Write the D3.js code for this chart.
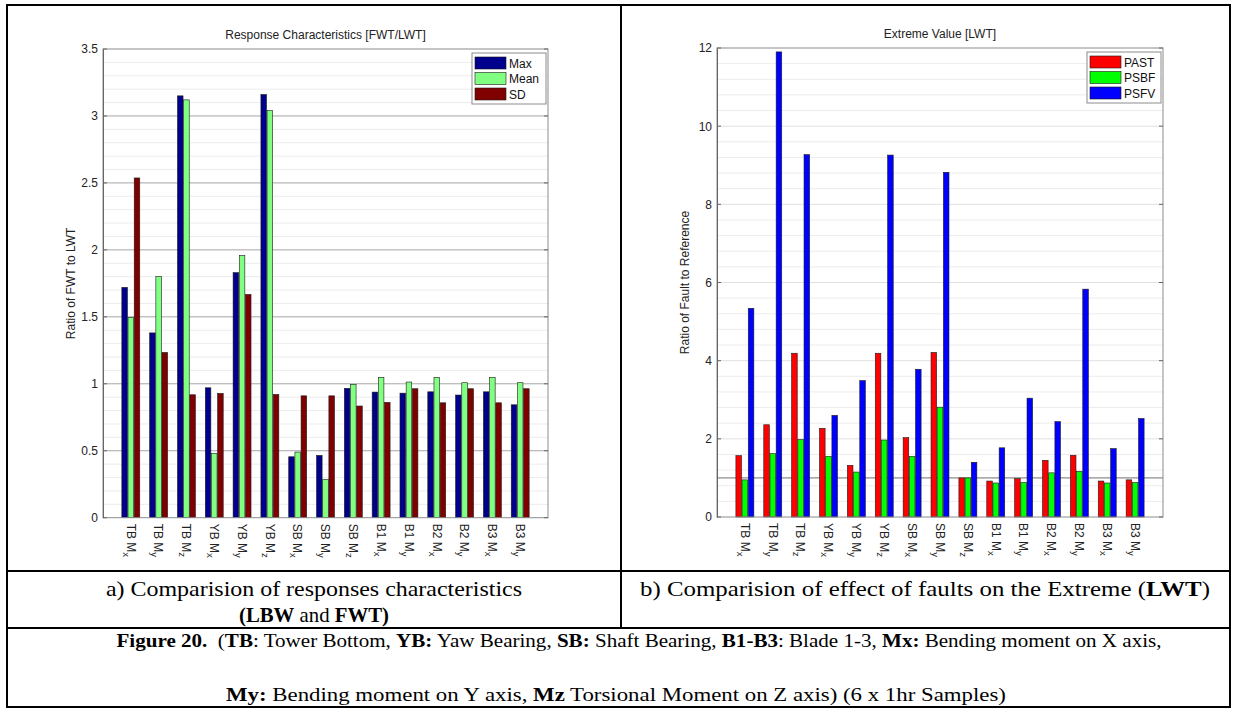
<!DOCTYPE html>
<html><head><meta charset="utf-8">
<script src="https://cdn.jsdelivr.net/npm/d3@7/dist/d3.min.js"></script>
<style>
body{margin:0;background:#fff;}
svg{display:block;}
</style></head>
<body>
<svg id="fig" width="1233" height="709"></svg>
<script>
// ---- data ----
const catBase = ["TB","TB","TB","YB","YB","YB","SB","SB","SB","B1","B1","B2","B2","B3","B3"];
const catSub  = ["x","y","z","x","y","z","x","y","z","x","y","x","y","x","y"];

const leftSeries = ["Max","Mean","SD"];
const leftMax  = [1.72,1.38,3.15,0.97,1.83,3.16,0.455,0.465,0.966,0.938,0.93,0.94,0.916,0.94,0.843];
const leftMean = [1.495,1.80,3.12,0.48,1.958,3.04,0.49,0.287,0.995,1.048,1.013,1.048,1.008,1.048,1.008];
const leftSD   = [2.537,1.234,0.918,0.928,1.667,0.92,0.91,0.91,0.834,0.861,0.963,0.858,0.963,0.858,0.963];
const leftTicks = [0,0.5,1,1.5,2,2.5,3,3.5];

const rightSeries = ["PAST","PSBF","PSFV"];
const rightPAST = [1.57,2.36,4.19,2.27,1.32,4.19,2.03,4.21,1.0,0.92,0.98,1.45,1.58,0.92,0.95];
const rightPSBF = [0.95,1.62,1.98,1.55,1.15,1.97,1.55,2.81,1.0,0.87,0.88,1.13,1.17,0.87,0.88];
const rightPSFV = [5.34,11.9,9.27,2.60,3.49,9.26,3.78,8.82,1.40,1.77,3.04,2.44,5.83,1.75,2.52];
const rightTicks = [0,2,4,6,8,10,12];

const leftColors  = ["#00008c","#80ff80","#800000"];
const rightColors = ["#ff0000","#00ff00","#0000ff"];

const SANS = "'Liberation Sans', Arial, sans-serif";
const SERIF = "'Liberation Serif', 'Times New Roman', serif";

const svg = d3.select("#fig");
svg.append("rect").attr("width",1233).attr("height",709).attr("fill","#fff");

function drawChart(opt){
  const g = svg.append("g");
  const x = d3.scaleLinear().domain([0, catBase.length+1]).range([opt.x0, opt.x1]);
  const y = d3.scaleLinear().domain([0, opt.ymax]).range([opt.y1, opt.y0]);
  g.selectAll(".minor").data(opt.minor).join("line")
    .attr("x1",opt.x0).attr("x2",opt.x1)
    .attr("y1",d=>y(d)).attr("y2",d=>y(d))
    .attr("stroke","#ececec").attr("stroke-width",1);
  g.selectAll(".major").data(opt.ticks.filter(t=>t>0 && t<opt.ymax)).join("line")
    .attr("x1",opt.x0).attr("x2",opt.x1)
    .attr("y1",d=>y(d)).attr("y2",d=>y(d))
    .attr("stroke",opt.majorColor).attr("stroke-width",1);
  if(opt.refLine!=null){
    g.append("line").attr("x1",opt.x0).attr("x2",opt.x1)
      .attr("y1",y(opt.refLine)).attr("y2",y(opt.refLine))
      .attr("stroke","#707070").attr("stroke-width",1);
  }
  const offs = [-0.222,0,0.222];
  const bw = 0.2;
  opt.series.forEach((vals,si)=>{
    g.append("g").selectAll("rect").data(vals).join("rect")
      .attr("x",(d,i)=>x(i+1+offs[si]-bw/2))
      .attr("width",x(bw)-x(0))
      .attr("y",d=>y(d))
      .attr("height",d=>y(0)-y(d))
      .attr("fill",opt.colors[si])
      .attr("stroke","#1a1a1a").attr("stroke-width",0.6);
  });
  g.append("rect").attr("x",opt.x0).attr("y",opt.y0)
    .attr("width",opt.x1-opt.x0).attr("height",opt.y1-opt.y0)
    .attr("fill","none").attr("stroke","#8c8c8c").attr("stroke-width",1);
  const ax = d3.axisLeft(y).tickValues(opt.ticks).tickSize(0).tickPadding(5)
     .tickFormat(d=>d3.format("")(d));
  const ag = g.append("g").attr("transform",`translate(${opt.x0},0)`).call(ax);
  ag.attr("font-family",null).attr("font-size",null);
  ag.select(".domain").attr("stroke","#666");
  ag.selectAll("text").style("font-family",SANS)
    .style("font-size","12px").attr("fill","#222");
  g.selectAll(".tk").data(opt.ticks).join("line")
    .attr("x1",opt.x0).attr("x2",opt.x0+4).attr("y1",d=>y(d)).attr("y2",d=>y(d))
    .attr("stroke","#666");
  g.selectAll(".tk2").data(opt.ticks).join("line")
    .attr("x1",opt.x1-4).attr("x2",opt.x1).attr("y1",d=>y(d)).attr("y2",d=>y(d))
    .attr("stroke","#666");
  const xl = g.append("g").selectAll("text").data(catBase).join("text")
    .attr("transform",(d,i)=>`translate(${x(i+1)},${opt.y1+6}) rotate(90)`)
    .attr("dy","0.35em")
    .style("font-family",SANS)
    .style("font-size","12px").attr("fill","#222");
  xl.append("tspan").text(d=>d+" M");
  xl.append("tspan").attr("dy","0.35em").style("font-size","9.5px").text((d,i)=>catSub[i]);
  g.append("text").attr("x",(opt.x0+opt.x1)/2).attr("y",opt.y0-10)
    .attr("text-anchor","middle").style("font-family",SANS)
    .style("font-size","12px").attr("fill","#222").text(opt.title);
  g.append("text").attr("transform",`translate(${opt.x0-28},${(opt.y0+opt.y1)/2}) rotate(-90)`)
    .attr("text-anchor","middle").style("font-family",SANS)
    .style("font-size","12px").attr("fill","#222").text(opt.ylabel);
  const lx = opt.x1-76, ly = opt.y0+4;
  g.append("rect").attr("x",lx).attr("y",ly).attr("width",74).attr("height",51)
    .attr("fill","#fff").attr("stroke","#8c8c8c");
  opt.names.forEach((n,i)=>{
    g.append("rect").attr("x",lx+3).attr("y",ly+4+i*15.5).attr("width",31).attr("height",12)
      .attr("fill",opt.colors[i]).attr("stroke","#1a1a1a").attr("stroke-width",0.6);
    g.append("text").attr("x",lx+37).attr("y",ly+14.5+i*15.5)
      .style("font-family",SANS).style("font-size","12px")
      .attr("fill","#111").text(n);
  });
}

drawChart({x0:103,x1:548,y0:49,y1:517.7,ymax:3.5,ticks:leftTicks,
  minor:d3.range(1,35).map(d=>d/10).filter(d=>Math.abs(d*2-Math.round(d*2))>1e-6),
  majorColor:"#a6a6a6",refLine:null,
  series:[leftMax,leftMean,leftSD],colors:leftColors,names:leftSeries,
  title:"Response Characteristics [FWT/LWT]",ylabel:"Ratio of FWT to LWT"});

drawChart({x0:717,x1:1163,y0:48,y1:517,ymax:12,ticks:rightTicks,
  minor:d3.range(1,30).map(d=>d*0.4).filter(d=>Math.abs(d/2-Math.round(d/2))>1e-6),
  majorColor:"#e0e0e0",refLine:1,
  series:[rightPAST,rightPSBF,rightPSFV],colors:rightColors,names:rightSeries,
  title:"Extreme Value [LWT]",ylabel:"Ratio of Fault to Reference"});

// ---- table borders ----
const bl = [
  [7,5,1230,5],[7,707,1230,707],[7,5,7,707],[1230,5,1230,707],
  [621,5,621,628],[7,571,1230,571],[7,628,1230,628]
];
svg.selectAll(".bd").data(bl).join("line")
  .attr("x1",d=>d[0]).attr("y1",d=>d[1]).attr("x2",d=>d[2]).attr("y2",d=>d[3])
  .attr("stroke","#000").attr("stroke-width",2).attr("stroke-linecap","square");

// ---- captions ----
function cap(xc,yb,parts,size,len){
  const t = svg.append("text").attr("x",xc).attr("y",yb).attr("text-anchor","middle")
    .style("font-family",SERIF).style("font-size",size+"px").attr("fill","#000");
  if(len) t.attr("textLength",len).attr("lengthAdjust","spacingAndGlyphs");
  parts.forEach(p=>t.append("tspan").style("font-weight",p[1]?"bold":"normal").text(p[0]));
}
cap(314,596,[["a) Comparision of responses characteristics",0]],22,416);
cap(314,622,[["(LBW",1],[" and ",0],["FWT)",1]],22,150);
cap(925,596,[["b) Comparision of effect of faults on the Extreme (",0],["LWT",1],[")",0]],22,570);
cap(639,647,[["Figure 20.",1],["\u00a0\u00a0(",0],["TB",1],[": Tower Bottom, ",0],["YB:",1],[" Yaw Bearing, ",0],["SB:",1],[" Shaft Bearing, ",0],["B1-B3",1],[": Blade 1-3, ",0],["Mx:",1],[" Bending moment on X axis,",0]],18,1045);
cap(616,701,[["My:",1],[" Bending moment on Y axis, ",0],["Mz",1],[" Torsional Moment on Z axis) (6 x 1hr Samples)",0]],18,780);
</script>
</body></html>
